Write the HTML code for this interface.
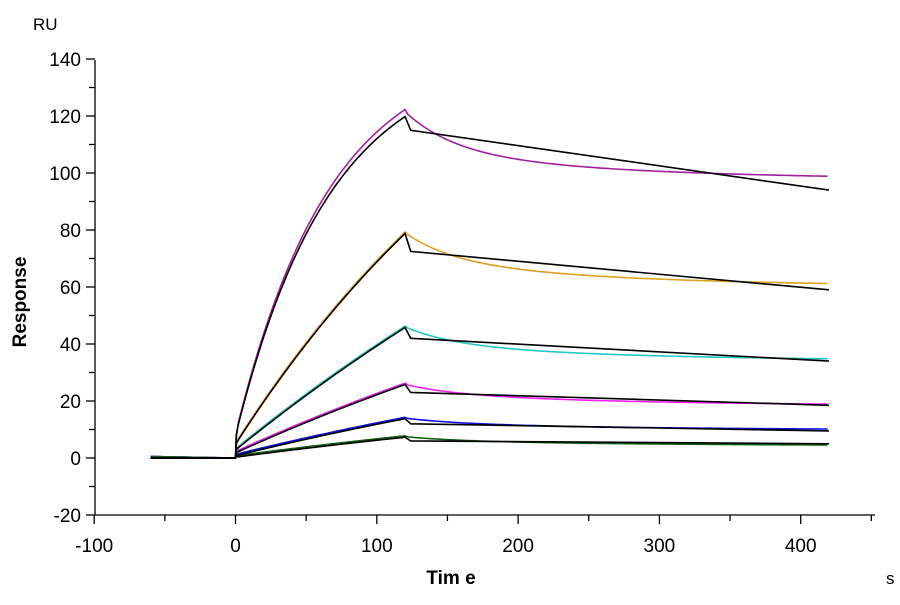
<!DOCTYPE html>
<html><head><meta charset="utf-8"><style>
body{margin:0;background:#fff}
svg text{font-family:"Liberation Sans",Arial,sans-serif}
</style></head><body>
<svg id="s" width="900" height="600" xmlns="http://www.w3.org/2000/svg">
<rect width="900" height="600" fill="#fff"/>
<g id="ax" stroke="#000" stroke-width="1.3" fill="none"></g>
<g id="lab" font-size="19" fill="#000"></g>
<g id="cur" fill="none" stroke-width="1.6"></g>
<text x="33" y="30" font-size="17">RU</text>
<text x="886" y="584" font-size="17">s</text>
<text x="451" y="584" font-size="19" font-weight="bold" text-anchor="middle">Tim e</text>
<text transform="translate(26,302) rotate(-90)" font-size="19" font-weight="bold" text-anchor="middle">Response</text>
</svg>
<script>
const X=t=>235.5+t*1.413, Y=v=>458-v*2.85;
const ax=document.getElementById('ax'),lab=document.getElementById('lab'),cur=document.getElementById('cur');
let h='';
h+=`<line x1="95" y1="60" x2="95" y2="515"/><line x1="95" y1="515" x2="875" y2="515"/>`;
for(let v=-20;v<=140;v+=10){const y=Y(v);h+=`<line x1="${v%20?89:86}" y1="${y}" x2="95" y2="${y}"/>`;
 if(v%20==0)lab.innerHTML+=`<text x="81" y="${y+7}" text-anchor="end">${v}</text>`;}
for(let t=-100;t<=450;t+=50){const x=X(t);h+=`<line x1="${x}" y1="515" x2="${x}" y2="${t%100?521:524}"/>`;
 if(t%100==0)lab.innerHTML+=`<text x="${x}" y="552" text-anchor="middle">${t}</text>`;}
ax.innerHTML=h;
const S=[
 {c:'#a020a0',p:122,k:0.015,pl:97.5,a:14,b:10,fp:120,f1:115,fe:94,o:8},
 {c:'#e0a020',p:79,k:0.004,pl:60,a:10,b:9,fp:79,f1:72.5,fe:59,o:5},
 {c:'#20c8c8',p:46,k:0.002,pl:34,a:6,b:6,fp:46,f1:42,fe:34,o:3},
 {c:'#f020f0',p:26,k:0.002,pl:18.3,a:3,b:4.5,fp:26,f1:23,fe:18.5,o:2},
 {c:'#1010e0',p:14,k:0.002,pl:9.8,a:1.5,b:2.7,fp:14,f1:12,fe:9.5,o:1},
 {c:'#106010',p:7.5,k:0.002,pl:4.3,a:1.2,b:2,fp:7.5,f1:6,fe:5,o:0.5}
];
let fits='',datas='';
for(const s of S){
 const Ad=(s.p-s.o)/(1-Math.exp(-s.k*120));
 let d=`M${X(-60)},${Y(0.5)} L${X(0)},${Y(0)} L${X(0.7)},${Y(s.o)}`;
 for(let t=2;t<=120;t+=2)d+=` L${X(t)},${Y(s.o+Ad*(1-Math.exp(-s.k*t)))-0.8}`;
 for(let t=122;t<=420;t+=3){const u=t-120;d+=` L${X(t)},${Y(s.pl+s.a*Math.exp(-u/35)+s.b*Math.exp(-u/150))}`;}
 datas+=`<path d="${d}" stroke="${s.c}"/>`;
 const A2=(s.fp-s.o)/(1-Math.exp(-s.k*120));
 let f=`M${X(-60)},${Y(0)} L${X(0)},${Y(0)} L${X(0.5)},${Y(s.o)}`;
 for(let t=2;t<=120;t+=2)f+=` L${X(t)},${Y(s.o+A2*(1-Math.exp(-s.k*t)))+0.6}`;
 f+=` L${X(124)},${Y(s.f1)} L${X(420)},${Y(s.fe)}`;
 fits+=`<path d="${f}" stroke="#000"/>`;
}
cur.innerHTML=datas+fits;
</script>
</body></html>
